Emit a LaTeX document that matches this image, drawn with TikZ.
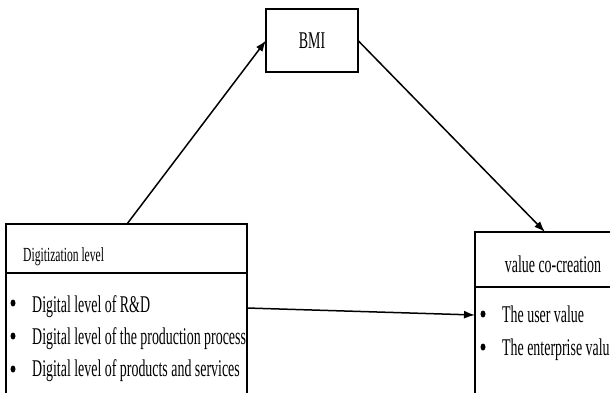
\documentclass[tikz,border=0pt]{standalone}
\usepackage{fontspec}
\setmainfont[FakeStretch=0.58]{Liberation Serif}
\usetikzlibrary{arrows.meta,shapes.geometric}
\tikzset{
  boxframe/.style={draw, line width=2.2pt, inner sep=0pt, outer sep=0pt},
  conn/.style={line width=1.5pt, -{Latex[length=11pt,width=8pt]}},
  divider/.style={line width=1.5pt},
  big/.style={font=\fontsize{24}{28}\selectfont, inner sep=0pt},
  small/.style={font=\fontsize{20}{24}\selectfont, inner sep=0pt},
  dot/.style={ellipse, fill, inner sep=0pt, minimum width=5pt, minimum height=7pt},
}
\begin{document}
\begin{tikzpicture}[x=1pt,y=-1pt]
\useasboundingbox (0,0) rectangle (610,392);
\clip (0,0) rectangle (610,392);
% boxes
\node[boxframe, minimum width=92pt, minimum height=63pt, anchor=north west] (bmi) at (266,9) {};
\node[big] at (bmi.center) {BMI};
\node[boxframe, minimum width=241pt, minimum height=180pt, anchor=north west] (dl) at (6,224) {};
\node[boxframe, minimum width=150pt, minimum height=180pt, anchor=north west] (vc) at (475,232) {};
% dividers
\coordinate (dla) at (6,273);
\coordinate (dlb) at (247,273);
\draw[divider] (dla) -- (dlb);
\coordinate (vca) at (475,287);
\coordinate (vcb) at (625,287);
\draw[divider] (vca) -- (vcb);
% texts left
\node[small, anchor=base west] (dlt) at (23,261) {Digitization level};
\node[dot] (b1) at (13,303) {};
\node[big, anchor=base west] (t1) at (32,312) {Digital level of R\&D};
\node[dot] (b2) at (13,336) {};
\node[big, anchor=base west] (t2) at (32,344) {Digital level of the production process};
\node[dot] (b3) at (13,369) {};
\node[big, anchor=base west] (t3) at (32,376) {Digital level of products and services};
% texts right
\node[big, anchor=base] (vct) at (553,272) {value co-creation};
\node[dot] (b4) at (483,314) {};
\node[big, anchor=base west] (t4) at (502,322) {The user value};
\node[dot] (b5) at (483,347) {};
\node[big, anchor=base west] (t5) at (502,355) {The enterprise value};
% connectors
\draw[conn] ([xshift=121pt]dl.north west) -- (bmi.west);
\draw[conn] (bmi.east) -- ([xshift=70pt]vc.north west);
\draw[conn] ([yshift=-84pt]dl.north east) -- ([yshift=-83pt]vc.north west);
\end{tikzpicture}
\end{document}
